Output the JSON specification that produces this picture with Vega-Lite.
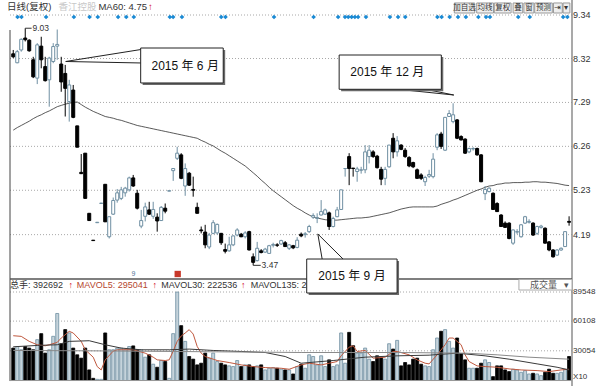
{
"$schema": "https://vega.github.io/schema/vega-lite/v6.json",
"width": 605, "height": 386, "autosize": "none", "padding": 0, "background": "white",
"config": {"view": {"stroke": null}, "text": {"font": "Liberation Sans, Noto Sans CJK SC"}},
"resolve": {"scale": {"y": "independent", "color": "independent"}},
"datasets": {
"k": [
{"i":0,"o":8.43,"h":8.52,"l":8.33,"c":8.36,"v":32800,"ma":6.64},
{"i":1,"o":8.22,"h":8.52,"l":8.21,"c":8.48,"v":34400,"ma":6.70},
{"i":2,"o":8.52,"h":8.79,"l":8.48,"c":8.77,"v":31100,"ma":6.75},
{"i":3,"o":8.80,"h":9.03,"l":8.72,"c":8.76,"v":34400,"ma":6.80},
{"i":4,"o":8.75,"h":8.77,"l":8.48,"c":8.50,"v":32800,"ma":6.85},
{"i":5,"o":8.29,"h":8.36,"l":7.86,"c":7.89,"v":31100,"ma":6.91},
{"i":6,"o":7.86,"h":8.68,"l":7.72,"c":8.64,"v":41300,"ma":6.96},
{"i":7,"o":8.61,"h":8.83,"l":8.09,"c":8.29,"v":47400,"ma":7.00},
{"i":8,"o":8.13,"h":8.36,"l":7.78,"c":7.80,"v":27700,"ma":7.05},
{"i":9,"o":7.82,"h":8.36,"l":7.19,"c":8.33,"v":31100,"ma":7.09},
{"i":10,"o":8.25,"h":8.68,"l":8.21,"c":8.60,"v":44700,"ma":7.14},
{"i":11,"o":8.61,"h":9.00,"l":8.29,"c":8.65,"v":67800,"ma":7.19},
{"i":12,"o":8.19,"h":8.36,"l":7.54,"c":7.77,"v":37200,"ma":7.22},
{"i":13,"o":7.97,"h":8.17,"l":6.96,"c":7.62,"v":51500,"ma":7.25},
{"i":14,"o":7.31,"h":7.82,"l":6.84,"c":7.70,"v":48100,"ma":7.27},
{"i":15,"o":7.58,"h":7.70,"l":6.92,"c":6.94,"v":32800,"ma":7.29},
{"i":16,"o":6.74,"h":6.74,"l":6.24,"c":6.24,"v":26000,"ma":7.30},
{"i":17,"o":5.65,"h":6.08,"l":5.61,"c":5.62,"v":22600,"ma":7.24},
{"i":18,"o":6.10,"h":6.10,"l":5.04,"c":5.04,"v":32800,"ma":7.18},
{"i":19,"o":4.69,"h":4.69,"l":4.52,"c":4.52,"v":10700,"ma":7.13},
{"i":20,"o":4.06,"h":4.06,"l":4.05,"c":4.05,"v":2200,"ma":7.08},
{"i":21,"o":4.47,"h":4.48,"l":4.47,"c":4.48,"v":1200,"ma":7.04},
{"i":22,"o":4.92,"h":4.93,"l":4.92,"c":4.93,"v":1200,"ma":7.00},
{"i":23,"o":5.37,"h":5.37,"l":4.49,"c":4.49,"v":48100,"ma":6.96},
{"i":24,"o":4.14,"h":4.61,"l":4.10,"c":4.61,"v":31100,"ma":6.94},
{"i":25,"o":4.67,"h":5.06,"l":4.65,"c":4.99,"v":31100,"ma":6.92},
{"i":26,"o":5.00,"h":5.26,"l":4.94,"c":5.17,"v":32800,"ma":6.89},
{"i":27,"o":5.04,"h":5.31,"l":5.00,"c":5.24,"v":32800,"ma":6.87},
{"i":28,"o":5.17,"h":5.31,"l":5.08,"c":5.28,"v":31100,"ma":6.84},
{"i":29,"o":5.24,"h":5.55,"l":5.20,"c":5.52,"v":34400,"ma":6.81},
{"i":30,"o":5.52,"h":5.59,"l":5.31,"c":5.33,"v":35000,"ma":6.78},
{"i":31,"o":5.16,"h":5.24,"l":4.78,"c":4.81,"v":31100,"ma":6.75},
{"i":32,"o":4.39,"h":4.77,"l":4.34,"c":4.52,"v":31100,"ma":6.73},
{"i":33,"o":4.62,"h":4.94,"l":4.50,"c":4.84,"v":23600,"ma":6.71},
{"i":34,"o":4.77,"h":4.96,"l":4.65,"c":4.67,"v":26000,"ma":6.69},
{"i":35,"o":4.62,"h":4.96,"l":4.56,"c":4.78,"v":16500,"ma":6.67},
{"i":36,"o":4.60,"h":4.69,"l":4.26,"c":4.51,"v":13400,"ma":6.65},
{"i":37,"o":4.52,"h":4.86,"l":4.51,"c":4.83,"v":20200,"ma":6.63},
{"i":38,"o":4.81,"h":4.92,"l":4.69,"c":4.74,"v":19200,"ma":6.61},
{"i":39,"o":5.21,"h":5.22,"l":5.21,"c":5.22,"v":2200,"ma":6.59},
{"i":40,"o":5.69,"h":5.74,"l":5.45,"c":5.74,"v":47400,"ma":6.57},
{"i":41,"o":5.98,"h":6.25,"l":5.94,"c":6.10,"v":89500,"ma":6.55},
{"i":42,"o":6.06,"h":6.10,"l":5.49,"c":5.51,"v":55500,"ma":6.53},
{"i":43,"o":5.33,"h":5.86,"l":5.10,"c":5.74,"v":39600,"ma":6.51},
{"i":44,"o":5.63,"h":5.66,"l":5.33,"c":5.35,"v":24300,"ma":6.49},
{"i":45,"o":5.25,"h":5.55,"l":5.08,"c":5.23,"v":21600,"ma":6.47},
{"i":46,"o":4.83,"h":4.94,"l":4.69,"c":4.69,"v":15800,"ma":6.45},
{"i":47,"o":4.30,"h":4.38,"l":4.22,"c":4.28,"v":17500,"ma":6.40},
{"i":48,"o":4.25,"h":4.42,"l":3.87,"c":3.95,"v":27700,"ma":6.36},
{"i":49,"o":3.90,"h":4.23,"l":3.85,"c":4.18,"v":22600,"ma":6.31},
{"i":50,"o":4.22,"h":4.53,"l":4.20,"c":4.47,"v":27700,"ma":6.27},
{"i":51,"o":4.23,"h":4.45,"l":4.19,"c":4.43,"v":19200,"ma":6.21},
{"i":52,"o":4.22,"h":4.23,"l":3.95,"c":4.00,"v":17500,"ma":6.15},
{"i":53,"o":3.84,"h":3.98,"l":3.75,"c":3.80,"v":15800,"ma":6.10},
{"i":54,"o":3.81,"h":4.14,"l":3.79,"c":3.95,"v":14800,"ma":6.04},
{"i":55,"o":3.95,"h":4.17,"l":3.92,"c":4.16,"v":14100,"ma":5.98},
{"i":56,"o":4.18,"h":4.34,"l":4.15,"c":4.30,"v":20200,"ma":5.92},
{"i":57,"o":4.20,"h":4.23,"l":4.13,"c":4.14,"v":14100,"ma":5.86},
{"i":58,"o":4.14,"h":4.27,"l":4.10,"c":4.23,"v":15800,"ma":5.80},
{"i":59,"o":4.26,"h":4.28,"l":3.82,"c":3.83,"v":15800,"ma":5.72},
{"i":60,"o":3.67,"h":3.75,"l":3.47,"c":3.54,"v":14100,"ma":5.64},
{"i":61,"o":3.58,"h":4.02,"l":3.56,"c":3.87,"v":14800,"ma":5.56},
{"i":62,"o":3.81,"h":3.85,"l":3.75,"c":3.77,"v":15800,"ma":5.47},
{"i":63,"o":3.78,"h":3.88,"l":3.76,"c":3.85,"v":10700,"ma":5.39},
{"i":64,"o":3.75,"h":3.95,"l":3.74,"c":3.93,"v":12400,"ma":5.30},
{"i":65,"o":3.94,"h":4.00,"l":3.89,"c":3.96,"v":13100,"ma":5.22},
{"i":66,"o":3.95,"h":3.99,"l":3.90,"c":3.94,"v":12400,"ma":5.15},
{"i":67,"o":3.97,"h":4.07,"l":3.95,"c":4.05,"v":11400,"ma":5.08},
{"i":68,"o":4.00,"h":4.04,"l":3.90,"c":3.91,"v":10700,"ma":5.01},
{"i":69,"o":3.87,"h":3.97,"l":3.83,"c":3.95,"v":10700,"ma":4.94},
{"i":70,"o":3.93,"h":3.95,"l":3.85,"c":3.88,"v":6600,"ma":4.87},
{"i":71,"o":3.89,"h":4.13,"l":3.87,"c":4.06,"v":14100,"ma":4.81},
{"i":72,"o":4.20,"h":4.24,"l":4.13,"c":4.16,"v":16500,"ma":4.76},
{"i":73,"o":4.19,"h":4.25,"l":4.12,"c":4.21,"v":12400,"ma":4.70},
{"i":74,"o":4.26,"h":4.42,"l":4.23,"c":4.38,"v":26000,"ma":4.65},
{"i":75,"o":4.60,"h":4.69,"l":4.56,"c":4.64,"v":24300,"ma":4.60},
{"i":76,"o":4.57,"h":4.69,"l":4.46,"c":4.59,"v":15800,"ma":4.58},
{"i":77,"o":4.65,"h":5.00,"l":4.64,"c":4.73,"v":25000,"ma":4.56},
{"i":78,"o":4.67,"h":4.80,"l":4.65,"c":4.77,"v":14100,"ma":4.54},
{"i":79,"o":4.70,"h":4.73,"l":4.30,"c":4.38,"v":20900,"ma":4.53},
{"i":80,"o":4.38,"h":4.61,"l":4.36,"c":4.57,"v":14100,"ma":4.53},
{"i":81,"o":4.61,"h":4.84,"l":4.60,"c":4.77,"v":15800,"ma":4.53},
{"i":82,"o":4.78,"h":5.24,"l":4.77,"c":5.24,"v":48100,"ma":4.54},
{"i":83,"o":5.74,"h":5.74,"l":5.55,"c":5.74,"v":17500,"ma":4.55},
{"i":84,"o":6.02,"h":6.10,"l":5.35,"c":5.74,"v":48700,"ma":4.56},
{"i":85,"o":5.75,"h":5.75,"l":5.55,"c":5.74,"v":35200,"ma":4.57},
{"i":86,"o":5.67,"h":5.78,"l":5.43,"c":5.73,"v":27700,"ma":4.58},
{"i":87,"o":5.70,"h":5.78,"l":5.62,"c":5.71,"v":27700,"ma":4.58},
{"i":88,"o":5.71,"h":6.29,"l":5.63,"c":6.13,"v":32800,"ma":4.59},
{"i":89,"o":6.02,"h":6.29,"l":5.86,"c":6.17,"v":21600,"ma":4.60},
{"i":90,"o":6.13,"h":6.17,"l":5.99,"c":6.02,"v":19200,"ma":4.62},
{"i":91,"o":6.03,"h":6.06,"l":5.74,"c":5.76,"v":25000,"ma":4.64},
{"i":92,"o":5.72,"h":5.78,"l":5.35,"c":5.49,"v":23600,"ma":4.66},
{"i":93,"o":5.51,"h":5.78,"l":5.35,"c":5.72,"v":21600,"ma":4.68},
{"i":94,"o":5.78,"h":6.29,"l":5.76,"c":6.29,"v":37200,"ma":4.70},
{"i":95,"o":6.45,"h":6.57,"l":5.98,"c":6.13,"v":31800,"ma":4.73},
{"i":96,"o":6.13,"h":6.50,"l":6.02,"c":6.39,"v":40600,"ma":4.76},
{"i":97,"o":6.29,"h":6.31,"l":6.17,"c":6.19,"v":14800,"ma":4.79},
{"i":98,"o":6.17,"h":6.22,"l":5.99,"c":6.02,"v":18200,"ma":4.81},
{"i":99,"o":6.00,"h":6.03,"l":5.77,"c":5.80,"v":15800,"ma":4.83},
{"i":100,"o":5.88,"h":5.90,"l":5.75,"c":5.78,"v":21600,"ma":4.84},
{"i":101,"o":5.71,"h":5.74,"l":5.50,"c":5.51,"v":22600,"ma":4.84},
{"i":102,"o":5.59,"h":5.63,"l":5.47,"c":5.51,"v":16500,"ma":4.84},
{"i":103,"o":5.43,"h":5.57,"l":5.33,"c":5.53,"v":14800,"ma":4.84},
{"i":104,"o":5.56,"h":5.71,"l":5.52,"c":5.60,"v":14100,"ma":4.84},
{"i":105,"o":5.55,"h":6.10,"l":5.51,"c":5.96,"v":31100,"ma":4.84},
{"i":106,"o":6.24,"h":6.57,"l":6.17,"c":6.53,"v":43000,"ma":4.86},
{"i":107,"o":6.55,"h":6.60,"l":6.20,"c":6.26,"v":49800,"ma":4.90},
{"i":108,"o":6.17,"h":6.94,"l":6.15,"c":6.94,"v":51500,"ma":4.93},
{"i":109,"o":6.96,"h":7.11,"l":6.95,"c":7.03,"v":39600,"ma":4.96},
{"i":110,"o":6.84,"h":7.27,"l":6.80,"c":7.00,"v":32800,"ma":5.00},
{"i":111,"o":6.88,"h":6.90,"l":6.43,"c":6.45,"v":43000,"ma":5.03},
{"i":112,"o":6.49,"h":6.52,"l":6.40,"c":6.41,"v":27000,"ma":5.07},
{"i":113,"o":6.43,"h":6.45,"l":6.08,"c":6.10,"v":20900,"ma":5.11},
{"i":114,"o":6.13,"h":6.23,"l":6.10,"c":6.21,"v":12400,"ma":5.15},
{"i":115,"o":6.20,"h":6.24,"l":6.16,"c":6.21,"v":12400,"ma":5.19},
{"i":116,"o":6.21,"h":6.23,"l":6.04,"c":6.06,"v":12400,"ma":5.23},
{"i":117,"o":6.06,"h":6.08,"l":5.42,"c":5.43,"v":17500,"ma":5.26},
{"i":118,"o":5.15,"h":5.33,"l":5.00,"c":5.25,"v":20900,"ma":5.30},
{"i":119,"o":5.20,"h":5.30,"l":5.18,"c":5.28,"v":18200,"ma":5.33},
{"i":120,"o":5.16,"h":5.18,"l":4.77,"c":4.78,"v":3900,"ma":5.34},
{"i":121,"o":4.92,"h":4.95,"l":4.72,"c":4.73,"v":14800,"ma":5.37},
{"i":122,"o":4.65,"h":4.67,"l":4.37,"c":4.38,"v":14800,"ma":5.38},
{"i":123,"o":4.46,"h":4.50,"l":4.35,"c":4.36,"v":10700,"ma":5.40},
{"i":124,"o":4.46,"h":4.48,"l":4.08,"c":4.10,"v":9000,"ma":5.40},
{"i":125,"o":3.99,"h":4.31,"l":3.95,"c":4.30,"v":11400,"ma":5.41},
{"i":126,"o":4.25,"h":4.32,"l":4.20,"c":4.26,"v":10700,"ma":5.41},
{"i":127,"o":4.14,"h":4.44,"l":4.12,"c":4.42,"v":8300,"ma":5.41},
{"i":128,"o":4.46,"h":4.63,"l":4.44,"c":4.61,"v":10000,"ma":5.42},
{"i":129,"o":4.48,"h":4.55,"l":4.45,"c":4.50,"v":6600,"ma":5.42},
{"i":130,"o":4.46,"h":4.48,"l":4.16,"c":4.18,"v":7300,"ma":5.43},
{"i":131,"o":4.22,"h":4.40,"l":4.18,"c":4.38,"v":6600,"ma":5.43},
{"i":132,"o":4.36,"h":4.42,"l":4.33,"c":4.39,"v":4900,"ma":5.42},
{"i":133,"o":4.34,"h":4.36,"l":3.98,"c":3.99,"v":8300,"ma":5.42},
{"i":134,"o":4.02,"h":4.04,"l":3.80,"c":3.83,"v":11400,"ma":5.41},
{"i":135,"o":3.83,"h":3.85,"l":3.65,"c":3.67,"v":7300,"ma":5.40},
{"i":136,"o":3.71,"h":3.85,"l":3.69,"c":3.83,"v":7300,"ma":5.39},
{"i":137,"o":3.83,"h":3.89,"l":3.81,"c":3.87,"v":8300,"ma":5.37},
{"i":138,"o":3.91,"h":4.27,"l":3.90,"c":4.26,"v":11400,"ma":5.35},
{"i":139,"o":4.50,"h":4.62,"l":4.40,"c":4.48,"v":24300,"ma":5.34}
],
"vma": [
{"s":"MAVOL5","i":0,"v":45300},{"s":"MAVOL5","i":2,"v":44650},{"s":"MAVOL5","i":4,"v":39580},{"s":"MAVOL5","i":6,"v":36170},{"s":"MAVOL5","i":8,"v":35150},{"s":"MAVOL5","i":9,"v":36170},{"s":"MAVOL5","i":11,"v":38550},{"s":"MAVOL5","i":12,"v":42960},{"s":"MAVOL5","i":14,"v":49760},{"s":"MAVOL5","i":15,"v":48060},{"s":"MAVOL5","i":17,"v":39580},{"s":"MAVOL5","i":18,"v":31070},{"s":"MAVOL5","i":20,"v":23600},{"s":"MAVOL5","i":21,"v":14090},{"s":"MAVOL5","i":22,"v":10700},{"s":"MAVOL5","i":23,"v":20890},{"s":"MAVOL5","i":25,"v":29710},{"s":"MAVOL5","i":26,"v":31070},{"s":"MAVOL5","i":30,"v":31070},{"s":"MAVOL5","i":33,"v":27680},{"s":"MAVOL5","i":35,"v":23600},{"s":"MAVOL5","i":36,"v":20890},{"s":"MAVOL5","i":38,"v":20210},{"s":"MAVOL5","i":39,"v":20890},{"s":"MAVOL5","i":40,"v":29710},{"s":"MAVOL5","i":41,"v":39580},{"s":"MAVOL5","i":42,"v":45000},{"s":"MAVOL5","i":43,"v":48060},{"s":"MAVOL5","i":44,"v":51450},{"s":"MAVOL5","i":45,"v":47000},{"s":"MAVOL5","i":46,"v":34450},{"s":"MAVOL5","i":47,"v":27680},{"s":"MAVOL5","i":48,"v":24280},{"s":"MAVOL5","i":50,"v":21570},{"s":"MAVOL5","i":51,"v":20210},{"s":"MAVOL5","i":54,"v":18170},{"s":"MAVOL5","i":57,"v":15790},{"s":"MAVOL5","i":60,"v":14090},{"s":"MAVOL5","i":63,"v":13080},{"s":"MAVOL5","i":67,"v":12390},{"s":"MAVOL5","i":69,"v":11380},{"s":"MAVOL5","i":72,"v":15790},{"s":"MAVOL5","i":74,"v":17490},{"s":"MAVOL5","i":77,"v":15790},{"s":"MAVOL5","i":79,"v":17490},{"s":"MAVOL5","i":81,"v":19190},{"s":"MAVOL5","i":82,"v":24960},{"s":"MAVOL5","i":84,"v":33770},{"s":"MAVOL5","i":85,"v":35150},{"s":"MAVOL5","i":86,"v":29370},{"s":"MAVOL5","i":88,"v":30390},{"s":"MAVOL5","i":90,"v":22580},{"s":"MAVOL5","i":93,"v":23600},{"s":"MAVOL5","i":95,"v":29370},{"s":"MAVOL5","i":96,"v":29370},{"s":"MAVOL5","i":99,"v":25980},{"s":"MAVOL5","i":101,"v":20890},{"s":"MAVOL5","i":103,"v":17490},{"s":"MAVOL5","i":104,"v":16810},{"s":"MAVOL5","i":106,"v":25980},{"s":"MAVOL5","i":108,"v":36170},{"s":"MAVOL5","i":109,"v":42960},{"s":"MAVOL5","i":110,"v":42960},{"s":"MAVOL5","i":112,"v":36170},{"s":"MAVOL5","i":113,"v":25980},{"s":"MAVOL5","i":114,"v":19190},{"s":"MAVOL5","i":116,"v":14770},{"s":"MAVOL5","i":118,"v":14090},{"s":"MAVOL5","i":121,"v":13420},{"s":"MAVOL5","i":124,"v":11720},{"s":"MAVOL5","i":127,"v":10700},{"s":"MAVOL5","i":131,"v":10020},{"s":"MAVOL5","i":134,"v":9000},{"s":"MAVOL5","i":137,"v":10700},{"s":"MAVOL5","i":139,"v":11380},
{"s":"MAVOL30","i":0,"v":34110},{"s":"MAVOL30","i":6,"v":35470},{"s":"MAVOL30","i":11,"v":36150},{"s":"MAVOL30","i":14,"v":39580},{"s":"MAVOL30","i":19,"v":40240},{"s":"MAVOL30","i":23,"v":36170},{"s":"MAVOL30","i":27,"v":32800},{"s":"MAVOL30","i":32,"v":31070},{"s":"MAVOL30","i":39,"v":31070},{"s":"MAVOL30","i":44,"v":31790},{"s":"MAVOL30","i":50,"v":30390},{"s":"MAVOL30","i":57,"v":29370},{"s":"MAVOL30","i":63,"v":28340},{"s":"MAVOL30","i":68,"v":24280},{"s":"MAVOL30","i":72,"v":17490},{"s":"MAVOL30","i":80,"v":20210},{"s":"MAVOL30","i":88,"v":23600},{"s":"MAVOL30","i":96,"v":24960},{"s":"MAVOL30","i":104,"v":25640},{"s":"MAVOL30","i":111,"v":27680},{"s":"MAVOL30","i":118,"v":24960},{"s":"MAVOL30","i":124,"v":21570},{"s":"MAVOL30","i":131,"v":16810},{"s":"MAVOL30","i":136,"v":13420},{"s":"MAVOL30","i":139,"v":10700},
{"s":"MAVOL135","i":0,"v":30400},{"s":"MAVOL135","i":20,"v":30000},{"s":"MAVOL135","i":40,"v":29370},{"s":"MAVOL135","i":72,"v":28340},{"s":"MAVOL135","i":96,"v":28340},{"s":"MAVOL135","i":113,"v":27680},{"s":"MAVOL135","i":121,"v":25980},{"s":"MAVOL135","i":129,"v":23600},{"s":"MAVOL135","i":139,"v":21570}
],
"mk": [{"i":1.08},{"i":2.06},{"i":8.21},{"i":15.16},{"i":19.09},{"i":21.13},{"i":26.22},{"i":28.26},{"i":30.15},{"i":39.16},{"i":39.98},{"i":42.19},{"i":52.01},{"i":53.07},{"i":65.21},{"i":75.11},{"i":81.25},{"i":82.97},{"i":83.78},{"i":84.62},{"i":85.43},{"i":86.24},{"i":88.21},{"i":94.2},{"i":96.24},{"i":98.03},{"i":106.07},{"i":107.13},{"i":109.14},{"i":111.23},{"i":113.19},{"i":116.31},{"i":118.23},{"i":119.21},{"i":126.29},{"i":129.17},{"i":137.52},{"i":138.57}],
"pl": [{"p":4.19},{"p":5.23},{"p":6.26},{"p":7.29},{"p":8.32},{"p":9.34}],
"vl": [{"v":30054},{"v":60108},{"v":89548}],
"btn": [{"b":"加自选","a":110.3,"z":115.4,"m":112.85},{"b":"均线","a":115.9,"z":120.1,"m":118.0},{"b":"复权","a":120.3,"z":124.5,"m":122.4},{"b":"叠","a":125.0,"z":127.4,"m":126.2},{"b":"窗","a":127.7,"z":130.2,"m":128.95},{"b":"预测","a":130.4,"z":134.8,"m":132.6},{"b":"⇥","a":135.1,"z":137.3,"m":136.2},{"b":"▾","a":137.5,"z":139.2,"m":138.35}]
},
"layer": [
{"data":{"name":"pl"},"mark":{"type":"rule","color":"#a8a8a8","strokeDash":[1,2]},
 "encoding":{"x":{"datum":-0.811,"type":"quantitative","scale":{"domain":[-0.811,139.73],"range":[5,577],"nice":false,"zero":false},"axis":null},"x2":{"datum":139.73},
  "y":{"field":"p","type":"quantitative","scale":{"domain":[3.173,9.387],"range":[278,13],"nice":false,"zero":false},"axis":null}}},
{"data":{"name":"pl"},"mark":{"type":"text","align":"left","baseline":"middle","fontSize":9,"color":"#333"},
 "encoding":{"x":{"datum":140.0,"type":"quantitative","scale":{"domain":[-0.811,139.73],"range":[5,577],"nice":false,"zero":false},"axis":null},
  "y":{"field":"p","type":"quantitative","scale":{"domain":[3.173,9.387],"range":[278,13],"nice":false,"zero":false},"axis":null},
  "text":{"field":"p","type":"quantitative","format":".2f"}}},
{"data":{"name":"vl"},"mark":{"type":"rule","color":"#a8a8a8","strokeDash":[1,2]},
 "encoding":{"x":{"datum":-0.811,"type":"quantitative","scale":{"domain":[-0.811,139.73],"range":[5,577],"nice":false,"zero":false},"axis":null},"x2":{"datum":139.73},
  "y":{"field":"v","type":"quantitative","scale":{"domain":[0,89548],"range":[380.5,292],"nice":false,"zero":false},"axis":null}}},
{"data":{"name":"vl"},"mark":{"type":"text","align":"left","baseline":"middle","fontSize":8,"color":"#333"},
 "encoding":{"x":{"datum":140.0,"type":"quantitative","scale":{"domain":[-0.811,139.73],"range":[5,577],"nice":false,"zero":false},"axis":null},
  "y":{"field":"v","type":"quantitative","scale":{"domain":[0,89548],"range":[380.5,292],"nice":false,"zero":false},"axis":null},
  "text":{"field":"v","type":"quantitative","format":"d"}}},
{"data":{"values":[{}]},"mark":{"type":"text","text":"X10","align":"left","baseline":"middle","fontSize":8,"color":"#333"},
 "encoding":{"x":{"datum":140.0,"type":"quantitative","scale":{"domain":[-0.811,139.73],"range":[5,577],"nice":false,"zero":false},"axis":null},
  "y":{"datum":3600,"type":"quantitative","scale":{"domain":[0,89548],"range":[380.5,292],"nice":false,"zero":false},"axis":null}}},
{"data":{"name":"k"},"mark":{"type":"line","color":"#5a5a5a","strokeWidth":1},
 "encoding":{"x":{"field":"i","type":"quantitative","scale":{"domain":[-0.811,139.73],"range":[5,577],"nice":false,"zero":false},"axis":null},
  "y":{"field":"ma","type":"quantitative","scale":{"domain":[3.173,9.387],"range":[278,13],"nice":false,"zero":false},"axis":null}}},
{"data":{"name":"k"},"mark":{"type":"rule","strokeWidth":1},
 "encoding":{"x":{"field":"i","type":"quantitative","scale":{"domain":[-0.811,139.73],"range":[5,577],"nice":false,"zero":false},"axis":null},
  "y":{"field":"l","type":"quantitative","scale":{"domain":[3.173,9.387],"range":[278,13],"nice":false,"zero":false},"axis":null},"y2":{"field":"h"},
  "color":{"condition":{"test":"datum.c >= datum.o","value":"#6f8fa2"},"value":"#000000"}}},
{"data":{"name":"k"},"mark":{"type":"bar","size":3,"strokeWidth":1},
 "encoding":{"x":{"field":"i","type":"quantitative","scale":{"domain":[-0.811,139.73],"range":[5,577],"nice":false,"zero":false},"axis":null},
  "y":{"field":"o","type":"quantitative","scale":{"domain":[3.173,9.387],"range":[278,13],"nice":false,"zero":false},"axis":null},"y2":{"field":"c"},
  "fill":{"condition":{"test":"datum.c >= datum.o","value":"#ffffff"},"value":"#000000"},
  "stroke":{"condition":{"test":"datum.c >= datum.o","value":"#6f8fa2"},"value":"#000000"}}},
{"data":{"name":"k"},"mark":{"type":"bar","size":3,"strokeWidth":0.8},
 "encoding":{"x":{"field":"i","type":"quantitative","scale":{"domain":[-0.811,139.73],"range":[5,577],"nice":false,"zero":false},"axis":null},
  "y":{"field":"v","type":"quantitative","scale":{"domain":[0,89548],"range":[380.5,292],"nice":false,"zero":false},"axis":null},"y2":{"datum":0},
  "fill":{"condition":{"test":"datum.c >= datum.o","value":"#c5d3db"},"value":"#000000"},
  "stroke":{"condition":{"test":"datum.c >= datum.o","value":"#6f8fa2"},"value":"#000000"}}},
{"data":{"name":"vma"},"mark":{"type":"line","strokeWidth":1},
 "encoding":{"x":{"field":"i","type":"quantitative","scale":{"domain":[-0.811,139.73],"range":[5,577],"nice":false,"zero":false},"axis":null},
  "y":{"field":"v","type":"quantitative","scale":{"domain":[0,89548],"range":[380.5,292],"nice":false,"zero":false},"axis":null},
  "color":{"field":"s","type":"nominal","scale":{"domain":["MAVOL5","MAVOL30","MAVOL135"],"range":["#c0583e","#3a3a3a","#8a8a8a"]},"legend":null}}},
{"data":{"name":"mk"},"mark":{"type":"point","shape":"diamond","filled":true,"size":22,"color":"#1a8ad4","opacity":1},
 "encoding":{"x":{"field":"i","type":"quantitative","scale":{"domain":[-0.811,139.73],"range":[5,577],"nice":false,"zero":false},"axis":null},
  "y":{"datum":9.293,"type":"quantitative","scale":{"domain":[3.173,9.387],"range":[278,13],"nice":false,"zero":false},"axis":null}}},
{"data":{"values":[{}]},"mark":{"type":"rule","color":"#8c8c8c","strokeWidth":1.5},
 "encoding":{"x":{"datum":139.73,"type":"quantitative","scale":{"domain":[-0.811,139.73],"range":[5,577],"nice":false,"zero":false},"axis":null},
  "y":{"datum":9.692,"type":"quantitative","scale":{"domain":[3.173,9.387],"range":[278,13],"nice":false,"zero":false},"axis":null},"y2":{"datum":0.64}}},
{"data":{"values":[{}]},"mark":{"type":"rule","color":"#444","strokeWidth":1},
 "encoding":{"x":{"datum":-0.811,"type":"quantitative","scale":{"domain":[-0.811,139.73],"range":[5,577],"nice":false,"zero":false},"axis":null},
  "y":{"datum":8.988,"type":"quantitative","scale":{"domain":[3.173,9.387],"range":[278,13],"nice":false,"zero":false},"axis":null},"y2":{"datum":0.757}}},
{"data":{"values":[{}]},"mark":{"type":"rule","color":"#555","strokeWidth":1.5},
 "encoding":{"x":{"datum":-0.811,"type":"quantitative","scale":{"domain":[-0.811,139.73],"range":[5,577],"nice":false,"zero":false},"axis":null},"x2":{"datum":139.73},
  "y":{"datum":3.149,"type":"quantitative","scale":{"domain":[3.173,9.387],"range":[278,13],"nice":false,"zero":false},"axis":null}}},
{"data":{"values":[{}]},"mark":{"type":"rule","color":"#999","strokeWidth":1},
 "encoding":{"x":{"datum":-0.811,"type":"quantitative","scale":{"domain":[-0.811,139.73],"range":[5,577],"nice":false,"zero":false},"axis":null},"x2":{"datum":139.73},
  "y":{"datum":0.769,"type":"quantitative","scale":{"domain":[3.173,9.387],"range":[278,13],"nice":false,"zero":false},"axis":null}}},
{"data":{"values":[{"t":"日线(复权)","x":-1.55,"g":"a"},{"t":"香江控股","x":11.3,"g":"b"},{"t":"MA60: 4.75","x":21.3,"g":"a"},{"t":"↑","x":33.7,"g":"r"}]},
 "mark":{"type":"text","align":"left","baseline":"middle","fontSize":9.5},
 "encoding":{"x":{"field":"x","type":"quantitative","scale":{"domain":[-0.811,139.73],"range":[5,577],"nice":false,"zero":false},"axis":null},
  "y":{"datum":9.528,"type":"quantitative","scale":{"domain":[3.173,9.387],"range":[278,13],"nice":false,"zero":false},"axis":null},
  "text":{"field":"t"},
  "color":{"field":"g","type":"nominal","scale":{"domain":["a","b","r","m"],"range":["#333333","#c8c8c8","#d0021b","#b5472f"]},"legend":null}}},
{"data":{"values":[{"t":"总手: 392692","x":-0.81,"g":"a"},{"t":"↑","x":13.81,"g":"r"},{"t":"MAVOL5: 295041","x":15.9,"g":"m"},{"t":"↑","x":34.81,"g":"r"},{"t":"MAVOL30: 222536","x":37.03,"g":"a"},{"t":"↑","x":56.93,"g":"r"},{"t":"MAVOL135: 246307","x":59.39,"g":"a"}]},
 "mark":{"type":"text","align":"left","baseline":"middle","fontSize":9},
 "encoding":{"x":{"field":"x","type":"quantitative","scale":{"domain":[-0.811,139.73],"range":[5,577],"nice":false,"zero":false},"axis":null},
  "y":{"datum":3.009,"type":"quantitative","scale":{"domain":[3.173,9.387],"range":[278,13],"nice":false,"zero":false},"axis":null},
  "text":{"field":"t"},
  "color":{"field":"g","type":"nominal","scale":{"domain":["a","b","r","m"],"range":["#333333","#c8c8c8","#d0021b","#b5472f"]},"legend":null}}},
{"data":{"name":"btn"},"mark":{"type":"rect","fill":"#eeeeee","stroke":"#9a9a9a","strokeWidth":1},
 "encoding":{"x":{"field":"a","type":"quantitative","scale":{"domain":[-0.811,139.73],"range":[5,577],"nice":false,"zero":false},"axis":null},"x2":{"field":"z"},
  "y":{"datum":9.622,"type":"quantitative","scale":{"domain":[3.173,9.387],"range":[278,13],"nice":false,"zero":false},"axis":null},"y2":{"datum":9.387}}},
{"data":{"name":"btn"},"mark":{"type":"text","align":"center","baseline":"middle","fontSize":7.5,"color":"#333"},
 "encoding":{"x":{"field":"m","type":"quantitative","scale":{"domain":[-0.811,139.73],"range":[5,577],"nice":false,"zero":false},"axis":null},
  "y":{"datum":9.505,"type":"quantitative","scale":{"domain":[3.173,9.387],"range":[278,13],"nice":false,"zero":false},"axis":null},"text":{"field":"b"}}},
{"data":{"values":[{}]},"mark":{"type":"rect","fill":"#ffffff","stroke":"#aaaaaa","strokeWidth":1},
 "encoding":{"x":{"datum":126.46,"type":"quantitative","scale":{"domain":[-0.811,139.73],"range":[5,577],"nice":false,"zero":false},"axis":null},"x2":{"datum":139.73},
  "y":{"datum":3.138,"type":"quantitative","scale":{"domain":[3.173,9.387],"range":[278,13],"nice":false,"zero":false},"axis":null},"y2":{"datum":2.891}}},
{"data":{"values":[{"t":"成交量","x":132.6},{"t":"▾","x":138.3}]},"mark":{"type":"text","align":"center","baseline":"middle","fontSize":9,"color":"#555"},
 "encoding":{"x":{"field":"x","type":"quantitative","scale":{"domain":[-0.811,139.73],"range":[5,577],"nice":false,"zero":false},"axis":null},
  "y":{"datum":3.008,"type":"quantitative","scale":{"domain":[3.173,9.387],"range":[278,13],"nice":false,"zero":false},"axis":null},"text":{"field":"t"}}},
{"data":{"values":[{"x":31.94,"y":8.531,"x2":13.12,"y2":8.25},{"x":31.94,"y":8.215,"x2":13.12,"y2":8.25},{"x":96.24,"y":7.598,"x2":110.17,"y2":7.464},{"x":103.12,"y":7.598,"x2":110.17,"y2":7.464},{"x":77.25,"y":3.618,"x2":76.17,"y2":4.205},{"x":82.48,"y":3.618,"x2":76.17,"y2":4.205}]},
 "mark":{"type":"rule","color":"#222","strokeWidth":1},
 "encoding":{"x":{"field":"x","type":"quantitative","scale":{"domain":[-0.811,139.73],"range":[5,577],"nice":false,"zero":false},"axis":null},"x2":{"field":"x2"},
  "y":{"field":"y","type":"quantitative","scale":{"domain":[3.173,9.387],"range":[278,13],"nice":false,"zero":false},"axis":null},"y2":{"field":"y2"}}},
{"data":{"values":[{"x":32.36,"x2":53.0,"y":8.519,"y2":7.699},{"x":81.99,"x2":107.54,"y":8.355,"y2":7.551},{"x":73.88,"x2":96.48,"y":3.571,"y2":2.774}]},
 "mark":{"type":"rect","fill":"#6a6a6a"},
 "encoding":{"x":{"field":"x","type":"quantitative","scale":{"domain":[-0.811,139.73],"range":[5,577],"nice":false,"zero":false},"axis":null},"x2":{"field":"x2"},
  "y":{"field":"y","type":"quantitative","scale":{"domain":[3.173,9.387],"range":[278,13],"nice":false,"zero":false},"axis":null},"y2":{"field":"y2"}}},
{"data":{"values":[{"x":31.87,"x2":52.51,"y":8.566,"y2":7.746},{"x":81.5,"x2":107.05,"y":8.402,"y2":7.598},{"x":73.39,"x2":95.99,"y":3.618,"y2":2.821}]},
 "mark":{"type":"rect","fill":"#ffffff","stroke":"#222","strokeWidth":1},
 "encoding":{"x":{"field":"x","type":"quantitative","scale":{"domain":[-0.811,139.73],"range":[5,577],"nice":false,"zero":false},"axis":null},"x2":{"field":"x2"},
  "y":{"field":"y","type":"quantitative","scale":{"domain":[3.173,9.387],"range":[278,13],"nice":false,"zero":false},"axis":null},"y2":{"field":"y2"}}},
{"data":{"values":[{"t":"2015 年 6 月","x":43.0,"y":8.14},{"t":"2015 年 12 月","x":93.54,"y":8.0},{"t":"2015 年 9 月","x":84.7,"y":3.22}]},
 "mark":{"type":"text","align":"center","baseline":"middle","fontSize":12,"color":"#111"},
 "encoding":{"x":{"field":"x","type":"quantitative","scale":{"domain":[-0.811,139.73],"range":[5,577],"nice":false,"zero":false},"axis":null},
  "y":{"field":"y","type":"quantitative","scale":{"domain":[3.173,9.387],"range":[278,13],"nice":false,"zero":false},"axis":null},"text":{"field":"t"}}},
{"data":{"values":[{"x":3.0,"x2":4.6,"y":9.03},{"x":60.0,"x2":61.9,"y":3.47}]},"mark":{"type":"rule","color":"#333","strokeWidth":1},
 "encoding":{"x":{"field":"x","type":"quantitative","scale":{"domain":[-0.811,139.73],"range":[5,577],"nice":false,"zero":false},"axis":null},"x2":{"field":"x2"},
  "y":{"field":"y","type":"quantitative","scale":{"domain":[3.173,9.387],"range":[278,13],"nice":false,"zero":false},"axis":null}}},
{"data":{"values":[{"t":"9.03","x":4.8,"y":9.03},{"t":"3.47","x":62.1,"y":3.47}]},"mark":{"type":"text","align":"left","baseline":"middle","fontSize":8.5,"color":"#333"},
 "encoding":{"x":{"field":"x","type":"quantitative","scale":{"domain":[-0.811,139.73],"range":[5,577],"nice":false,"zero":false},"axis":null},
  "y":{"field":"y","type":"quantitative","scale":{"domain":[3.173,9.387],"range":[278,13],"nice":false,"zero":false},"axis":null},"text":{"field":"t"}}},
{"data":{"values":[{}]},"mark":{"type":"point","shape":"square","filled":true,"size":40,"color":"#c8382a","opacity":1},
 "encoding":{"x":{"datum":41.13,"type":"quantitative","scale":{"domain":[-0.811,139.73],"range":[5,577],"nice":false,"zero":false},"axis":null},
  "y":{"datum":3.267,"type":"quantitative","scale":{"domain":[3.173,9.387],"range":[278,13],"nice":false,"zero":false},"axis":null}}},
{"data":{"values":[{}]},"mark":{"type":"text","text":"9","align":"center","baseline":"middle","fontSize":7,"color":"#557799"},
 "encoding":{"x":{"datum":30.07,"type":"quantitative","scale":{"domain":[-0.811,139.73],"range":[5,577],"nice":false,"zero":false},"axis":null},
  "y":{"datum":3.267,"type":"quantitative","scale":{"domain":[3.173,9.387],"range":[278,13],"nice":false,"zero":false},"axis":null}}}
]
}
